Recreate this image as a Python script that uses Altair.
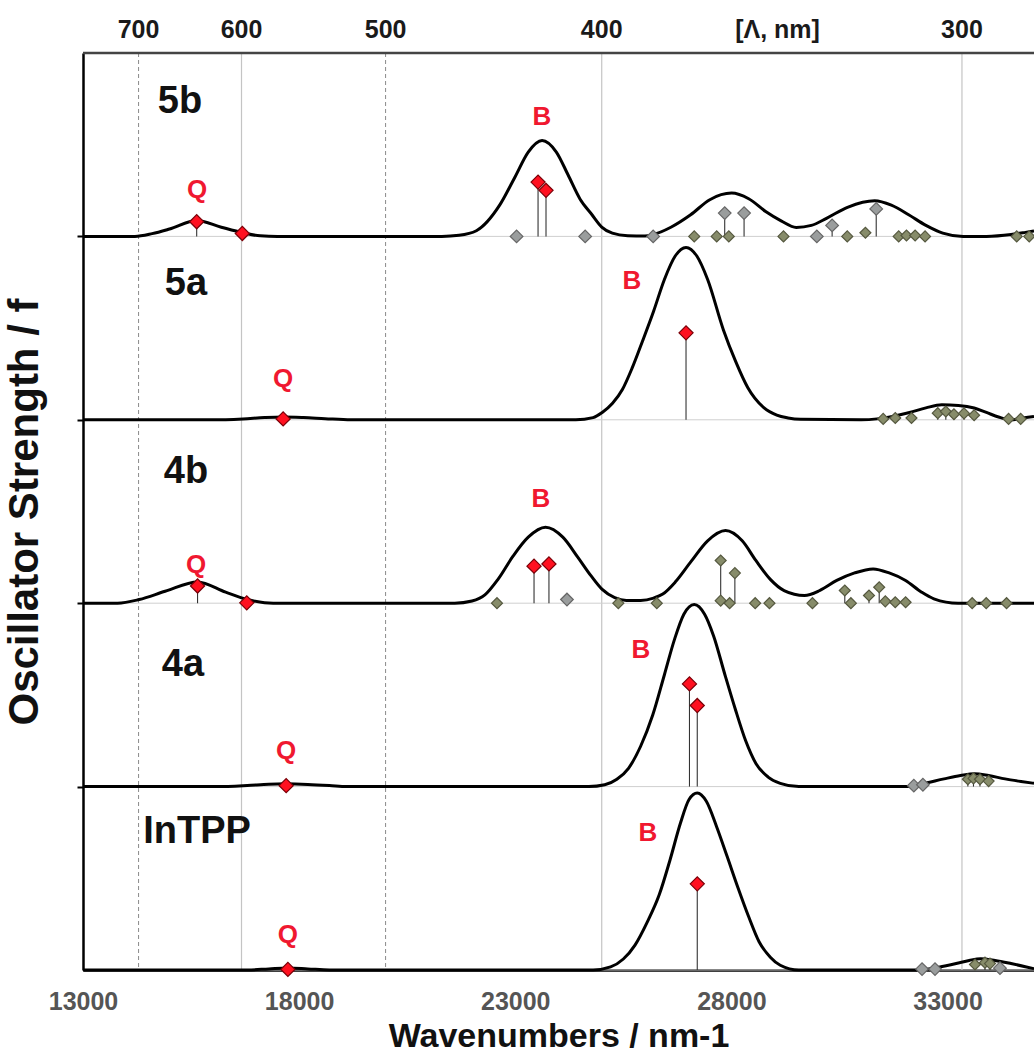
import altair as alt
import pandas as pd

# ---------------- data ----------------
panels = ["InTPP", "4a", "4b", "5a", "5b"]          # bottom -> top
offsets = {p: i for i, p in enumerate(panels)}

# broadened spectra (wavenumber, relative oscillator strength within a panel)
wn_5b = [13000, 14200, 14600, 15000, 15630, 16200, 16700, 17100, 17500, 21300, 21700, 22100, 22646, 23000,
         23300, 23620, 23950, 24220, 24500, 24775, 25000, 25246, 25600, 26000, 26190, 26600, 27057, 27500,
         28004, 28400, 28792, 29150, 29500, 29850, 30210, 30700, 31315, 31700, 32100, 32500, 32890, 33360,
         33900, 34470, 34800, 35000]
f_5b = [0, 0, 0.015, 0.04, 0.087, 0.05, 0.02, 0.003, 0, 0, 0.006, 0.031, 0.173, 0.327,
        0.46, 0.523, 0.46, 0.336, 0.203, 0.118, 0.051, 0.018, 0.004, 0.002, 0.01, 0.05, 0.118, 0.2,
        0.236, 0.205, 0.136, 0.085, 0.049, 0.06, 0.1, 0.16, 0.194, 0.17, 0.118, 0.06, 0.018, 0,
        0, 0.01, 0.022, 0.03]

wn_5a = [13000, 16000, 16700, 17200, 17630, 18100, 18600, 19200, 24400, 24800, 25011, 25250, 25478, 25700,
         25945, 26200, 26450, 26700, 26950, 27200, 27450, 27815, 28100, 28377, 28749, 29050, 29311, 29600,
         31000, 31370, 31750, 32120, 32500, 32867, 33250, 33615, 33900, 34180, 34460, 34700, 35000]
f_5a = [0, 0, 0.005, 0.012, 0.015, 0.012, 0.006, 0, 0, 0.012, 0.04, 0.09, 0.165, 0.28,
        0.43, 0.592, 0.765, 0.893, 0.94, 0.893, 0.765, 0.49, 0.317, 0.176, 0.066, 0.025, 0.01, 0.003,
        0, 0.005, 0.02, 0.04, 0.065, 0.082, 0.078, 0.064, 0.04, 0.015, 0, 0.008, 0.018]

wn_4b = [13000, 13800, 14300, 14900, 15650, 16300, 16800, 17200, 17600, 21600, 22000, 22297, 22600, 22952,
         23300, 23700, 24100, 24449, 24750, 25011, 25300, 25571, 25900, 26200, 26413, 26700, 27068, 27450,
         27864, 28250, 28565, 28900, 29219, 29690, 30050, 30437, 30850, 31279, 31650, 32029, 32400, 32684,
         33243, 35000]
f_4b = [0, 0, 0.02, 0.065, 0.116, 0.06, 0.02, 0.003, 0, 0, 0.012, 0.045, 0.13, 0.258,
        0.36, 0.414, 0.36, 0.25, 0.15, 0.075, 0.03, 0.015, 0.015, 0.028, 0.05, 0.115, 0.228, 0.34,
        0.396, 0.34, 0.233, 0.13, 0.069, 0.042, 0.07, 0.124, 0.165, 0.187, 0.165, 0.124, 0.06, 0.024,
        0, 0]

wn_4a = [13000, 16100, 16800, 17300, 17700, 18200, 18700, 19100, 24700, 25070, 25350, 25620, 25900, 26180,
         26450, 26680, 26900, 27140, 27380, 27590, 27850, 28080, 28330, 28570, 28850, 29130, 29560, 32080,
         32500, 32920, 33300, 33625, 33950, 34330, 34700, 35000]
f_4a = [0, 0, 0.006, 0.013, 0.015, 0.012, 0.006, 0, 0, 0.01, 0.04, 0.1, 0.22, 0.39,
        0.61, 0.8, 0.94, 0.993, 0.94, 0.82, 0.61, 0.43, 0.25, 0.125, 0.052, 0.018, 0, 0,
        0.02, 0.042, 0.06, 0.07, 0.06, 0.042, 0.028, 0.018]

wn_intpp = [13000, 16800, 17300, 17740, 18200, 18700, 24800, 25205, 25500, 25770, 26050, 26330, 26580, 26820,
            27020, 27210, 27420, 27660, 27900, 28150, 28400, 28640, 28900, 29130, 29560, 32360, 32800, 33200,
            33500, 33765, 34100, 34470, 34800, 35000]
f_intpp = [0, 0, 0.006, 0.011, 0.006, 0, 0, 0.017, 0.06, 0.136, 0.26, 0.41, 0.6, 0.8,
           0.93, 0.965, 0.92, 0.78, 0.62, 0.45, 0.29, 0.154, 0.07, 0.026, 0, 0, 0.015, 0.035,
           0.052, 0.062, 0.052, 0.035, 0.018, 0.007]

# computed transitions (sticks): wavenumber, strength, kind
st_wn_5b = [15630, 16686, 23527, 23711, 23030, 24617, 26190, 27140, 27660, 27845, 27940, 28293, 29205,
            29976, 30330, 30680, 31100, 31350, 31870, 32050, 32250, 32480, 34600, 34890]
st_f_5b = [0.08, 0.016, 0.296, 0.251, 0, 0, 0, 0, 0, 0.127, 0, 0.127, 0,
           0, 0.06, 0, 0.02, 0.15, 0, 0.005, 0.005, 0, 0, 0]
st_k_5b = ["red", "red", "red", "red", "gray", "gray", "gray", "olive", "olive", "gray", "olive", "gray", "olive",
           "gray", "gray", "olive", "olive", "gray", "olive", "olive", "olive", "olive", "olive", "olive"]

st_wn_5a = [17630, 26950, 31511, 31791, 32166, 32774, 32960, 33148, 33381, 33615, 34412, 34692]
st_f_5a = [0.005, 0.474, 0.005, 0.01, 0.01, 0.036, 0.045, 0.03, 0.035, 0.025, 0.005, 0.005]
st_k_5a = ["red", "red", "olive", "olive", "olive", "olive", "olive", "olive", "olive", "olive", "olive", "olive"]

st_wn_4b = [15650, 16788, 23434, 23779, 22577, 24196, 25384, 26274, 27752, 27752, 27958, 28080, 28550,
            28880, 29875, 30623, 30764, 31183, 31419, 31560, 31790, 32030, 33570, 33895, 34365]
st_f_4b = [0.094, 0.002, 0.202, 0.214, 0, 0.02, 0, 0, 0.233, 0.014, 0, 0.164, 0,
           0, 0, 0.069, 0, 0.042, 0.087, 0.01, 0.005, 0.005, 0, 0, 0]
st_k_4b = ["red", "red", "red", "red", "olive", "gray", "olive", "olive", "olive", "olive", "olive", "olive",
           "olive", "olive", "olive", "olive", "olive", "olive", "olive", "olive", "olive", "olive", "olive",
           "olive", "olive"]

st_wn_4a = [17700, 27030, 27210, 32220, 32430, 33470, 33600, 33750, 33950]
st_f_4a = [0.005, 0.56, 0.442, 0.005, 0.01, 0.04, 0.045, 0.04, 0.03]
st_k_4a = ["red", "red", "red", "gray", "gray", "olive", "olive", "olive", "olive"]

st_wn_intpp = [17740, 27210, 32410, 32710, 33635, 33866, 33982, 34213]
st_f_intpp = [0.003, 0.47, 0.005, 0.005, 0.03, 0.04, 0.035, 0.01]
st_k_intpp = ["red", "red", "gray", "gray", "olive", "olive", "olive", "gray"]

# panel names, Q / B band labels (wavenumber, height inside the panel)
name_wn = [15244, 15383, 15383, 15313, 15637]
name_h = [0.731, 0.742, 0.714, 0.665, 0.752]
name_panel = ["5b", "5a", "4b", "4a", "InTPP"]

band_text = ["Q", "Q", "Q", "Q", "Q", "B", "B", "B", "B", "B"]
band_panel = ["5b", "5a", "4b", "4a", "InTPP", "5b", "5a", "4b", "4a", "InTPP"]
band_wn = [15637, 17627, 15614, 17696, 17742, 23618, 25700, 23595, 25908, 26070]
band_h = [0.251, 0.224, 0.207, 0.196, 0.191, 0.649, 0.758, 0.567, 0.747, 0.747]

# top wavelength axis and grid lines
nm_labels = [700, 600, 500, 400, 300]
nm_dashed = [True, False, True, False, False]
bottom_ticks = [13000, 18000, 23000, 28000, 33000]

# ---------------- tables ----------------
curves = {"5b": (wn_5b, f_5b), "5a": (wn_5a, f_5a), "4b": (wn_4b, f_4b),
          "4a": (wn_4a, f_4a), "InTPP": (wn_intpp, f_intpp)}
sticks = {"5b": (st_wn_5b, st_f_5b, st_k_5b), "5a": (st_wn_5a, st_f_5a, st_k_5a),
          "4b": (st_wn_4b, st_f_4b, st_k_4b), "4a": (st_wn_4a, st_f_4a, st_k_4a),
          "InTPP": (st_wn_intpp, st_f_intpp, st_k_intpp)}

curve_df = pd.DataFrame([{"panel": p, "wn": w, "y": offsets[p] + v}
                         for p, (ws, vs) in curves.items() for w, v in zip(ws, vs)])
stick_df = pd.DataFrame([{"panel": p, "wn": w, "base": offsets[p], "y": offsets[p] + v, "kind": k}
                         for p, (ws, vs, ks) in sticks.items() for w, v, k in zip(ws, vs, ks)])
name_df = pd.DataFrame({"label": name_panel, "wn": name_wn,
                        "y": [offsets[p] + h for p, h in zip(name_panel, name_h)]})
band_df = pd.DataFrame({"label": band_text, "wn": band_wn,
                        "y": [offsets[p] + h for p, h in zip(band_panel, band_h)]})
grid_df = pd.DataFrame({"wn": [1e7 / n for n in nm_labels], "dashed": nm_dashed})
top_df = pd.DataFrame({"label": [str(n) for n in nm_labels] + ["[Λ, nm]"],
                       "wn": [1e7 / n for n in nm_labels] + [29066]})
base_df = pd.DataFrame({"y": [0, 1, 2, 3, 4]})

W, H = 951, 917
FONT = "Liberation Sans"

xscale = alt.Scale(domain=[13000, 35000], nice=False, zero=False)
yscale = alt.Scale(domain=[0, 5], nice=False, zero=False)
xaxis = alt.Axis(values=bottom_ticks, format="d", title="Wavenumbers / nm-1", ticks=False, grid=False,
                 labelFont=FONT, labelFontSize=25, labelFontWeight="bold", labelColor="#555555",
                 labelPadding=19, labelFlush=False, labelOverlap=False,
                 titleFont=FONT, titleFontSize=34, titleFontWeight="bold", titleColor="#111111",
                 titlePadding=5, domainColor="#000000", domainWidth=2.5)
yaxis = alt.Axis(values=[1, 2, 3, 4], labels=False, grid=False, tickSize=6, tickColor="#000000",
                 tickWidth=2, domainColor="#000000", domainWidth=2.5,
                 title="Oscillator Strength / f", titleFont=FONT, titleFontSize=42,
                 titleFontWeight="bold", titleColor="#111111", titlePadding=30)

X = alt.X("wn:Q", scale=xscale, axis=xaxis)
Y = alt.Y("y:Q", scale=yscale, axis=yaxis)

grid_dashed = alt.Chart(grid_df).mark_rule(color="#8a8a8a", strokeWidth=1, strokeDash=[4, 3]).encode(
    x=X).transform_filter("datum.dashed")
grid_solid = alt.Chart(grid_df).mark_rule(color="#c4c4c4", strokeWidth=1.2).encode(
    x=X).transform_filter("!datum.dashed")
baselines = alt.Chart(base_df).mark_rule(color="#cfcfcf", strokeWidth=1).encode(y=Y)
top_border = alt.Chart(pd.DataFrame({"a": [0]})).mark_rule(color="#444444", strokeWidth=2.5).encode(
    x=alt.value(0), x2=alt.value(W), y=alt.value(0))

lines = alt.Chart(curve_df).mark_line(color="#000000", strokeWidth=3, interpolate="monotone").encode(
    x=X, y=Y, detail="panel:N")
stick_rules = alt.Chart(stick_df).mark_rule(color="#333333", strokeWidth=1.1).encode(
    x=X, y=Y, y2="base:Q")
kinds = ["red", "gray", "olive"]
points = alt.Chart(stick_df).mark_point(filled=True, shape="diamond", opacity=1, strokeWidth=1.2).encode(
    x=X, y=Y,
    fill=alt.Fill("kind:N", scale=alt.Scale(domain=kinds, range=["#ff1020", "#9a9d9d", "#878c6a"]), legend=None),
    stroke=alt.Stroke("kind:N", scale=alt.Scale(domain=kinds, range=["#7a0008", "#666666", "#55583f"]), legend=None),
    size=alt.Size("kind:N", scale=alt.Scale(domain=kinds, range=[200, 120, 120]), legend=None),
    order=alt.Order("kind:N", sort="ascending"))

names = alt.Chart(name_df).mark_text(font=FONT, fontSize=38, fontWeight="bold", color="#111111",
                                     align="center", baseline="middle").encode(x=X, y=Y, text="label:N")
bands = alt.Chart(band_df).mark_text(font=FONT, fontSize=26, fontWeight="bold", color="#f01830",
                                     align="center", baseline="middle").encode(x=X, y=Y, text="label:N")
top_labels = alt.Chart(top_df).mark_text(font=FONT, fontSize=25, fontWeight="bold", color="#1a1a1a",
                                         align="center", baseline="middle").encode(
    x=X, y=alt.value(-23), text="label:N")

chart = alt.layer(grid_dashed, grid_solid, baselines, lines, stick_rules, points, names, bands,
                  top_labels, top_border).properties(
    width=W, height=H,
    autosize=alt.AutoSizeParams(type="none"),
    padding={"left": 83, "top": 53, "right": 0, "bottom": 92},
    background="white",
).configure_view(stroke=None)

chart.save("out.html", embed_options={"renderer": "svg", "actions": False})
